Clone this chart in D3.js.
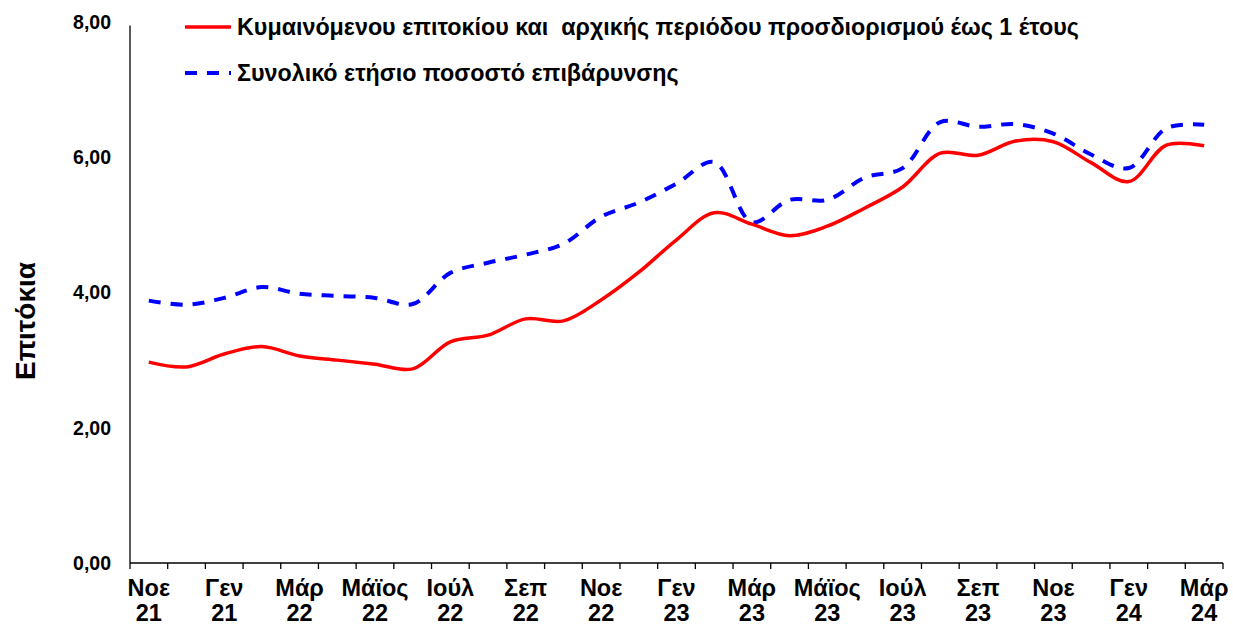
<!DOCTYPE html>
<meta charset="utf-8">
<script src="https://cdn.jsdelivr.net/npm/d3@7"></script>
<style>
body { margin: 0; background: #fff; }
text { font-family: "Liberation Sans", Arial, sans-serif; font-weight: bold; fill: #000; }
</style>
<body>
<script>
// months, Nov 21 .. Mar 24
var months = ["Nov21","Dec21","Jan22","Feb22","Mar22","Apr22","May22","Jun22","Jul22","Aug22",
  "Sep22","Oct22","Nov22","Dec22","Jan23","Feb23","Mar23","Apr23","May23","Jun23",
  "Jul23","Aug23","Sep23","Oct23","Nov23","Dec23","Jan24","Feb24","Mar24"];

var tickLabels = [["Νοε","21"],["Γεν","21"],["Μάρ","22"],["Μάϊος","22"],["Ιούλ","22"],["Σεπ","22"],
  ["Νοε","22"],["Γεν","23"],["Μάρ","23"],["Μάϊος","23"],["Ιούλ","23"],["Σεπ","23"],
  ["Νοε","23"],["Γεν","24"],["Μάρ","24"]];

var floating = [2.97,2.90,3.09,3.20,3.06,3.00,2.94,2.87,3.27,3.37,
  3.61,3.58,3.89,4.30,4.78,5.18,5.01,4.84,4.98,5.25,
  5.56,6.06,6.03,6.24,6.23,5.92,5.64,6.18,6.17];

var apr = [3.88,3.82,3.92,4.08,3.98,3.95,3.92,3.83,4.29,4.44,
  4.56,4.72,5.12,5.33,5.61,5.93,5.04,5.37,5.37,5.70,
  5.84,6.52,6.45,6.49,6.35,6.04,5.84,6.43,6.48];

var seriesNames = ["Κυμαινόμενου επιτοκίου και  αρχικής περιόδου προσδιορισμού έως 1 έτους",
  "Συνολικό ετήσιο ποσοστό επιβάρυνσης"];

var W = 1233, H = 628;
var svg = d3.select("body").append("svg").attr("width", W).attr("height", H);

var x = d3.scaleBand().domain(months).range([130, 1223]);
var y = d3.scaleLinear().domain([0, 8]).range([563, 22]);

// y axis
svg.append("line")
  .attr("x1", 130).attr("x2", 130).attr("y1", y(7.95)).attr("y2", y(0))
  .attr("stroke", "#000").attr("stroke-width", 1.3);
svg.selectAll(".ylab").data([0, 2, 4, 6, 8]).enter().append("text")
  .attr("x", 111).attr("y", function(d) { return y(d); })
  .attr("dy", "0.35em").attr("text-anchor", "end")
  .style("font-size", "19.5px")
  .text(function(d) { return d3.format(".2f")(d).replace(".", ","); });

svg.append("text")
  .attr("transform", "translate(35,321) rotate(-90)")
  .attr("text-anchor", "middle").style("font-size", "28px")
  .text("Επιτόκια");

// x axis, ticks between categories
svg.append("line")
  .attr("x1", 130).attr("x2", 1223).attr("y1", y(0)).attr("y2", y(0))
  .attr("stroke", "#000").attr("stroke-width", 1.3);
var bounds = months.map(function(m) { return x(m); }).concat([x.range()[1]]);
svg.selectAll(".xt").data(bounds).enter().append("line")
  .attr("x1", function(d) { return d; }).attr("x2", function(d) { return d; })
  .attr("y1", y(0)).attr("y2", y(0) + 6)
  .attr("stroke", "#000").attr("stroke-width", 1.3);

var xl = svg.selectAll(".xl").data(tickLabels).enter().append("text")
  .attr("text-anchor", "middle").style("font-size", "23.5px")
  .attr("transform", function(d, i) {
    return "translate(" + (x(months[i * 2]) + x.bandwidth() / 2) + ",596)";
  });
xl.append("tspan").attr("x", 0).attr("y", 0).text(function(d) { return d[0]; });
xl.append("tspan").attr("x", 0).attr("y", 25).text(function(d) { return d[1]; });

// lines
var line = d3.line()
  .x(function(d, i) { return x(months[i]) + x.bandwidth() / 2; })
  .y(function(d) { return y(d); })
  .curve(d3.curveCatmullRom.alpha(0.5));

svg.append("path").datum(apr)
  .attr("d", line).attr("fill", "none")
  .attr("stroke", "#0000ff").attr("stroke-width", 4)
  .attr("stroke-dasharray", "12,10");

svg.append("path").datum(floating)
  .attr("d", line).attr("fill", "none")
  .attr("stroke", "#ff0000").attr("stroke-width", 3.5);

// legend
var leg = [{c: "#ff0000", dash: null, y: 27}, {c: "#0000ff", dash: "12,10", y: 73}];
leg.forEach(function(l, i) {
  svg.append("line")
    .attr("x1", 185).attr("x2", 231).attr("y1", l.y).attr("y2", l.y)
    .attr("stroke", l.c).attr("stroke-width", i ? 4 : 3.5)
    .attr("stroke-dasharray", l.dash);
  svg.append("text")
    .attr("x", 237).attr("y", l.y).attr("dy", "0.35em")
    .style("font-size", "23.3px").style("white-space", "pre")
    .text(seriesNames[i]);
});
</script>
</body>
